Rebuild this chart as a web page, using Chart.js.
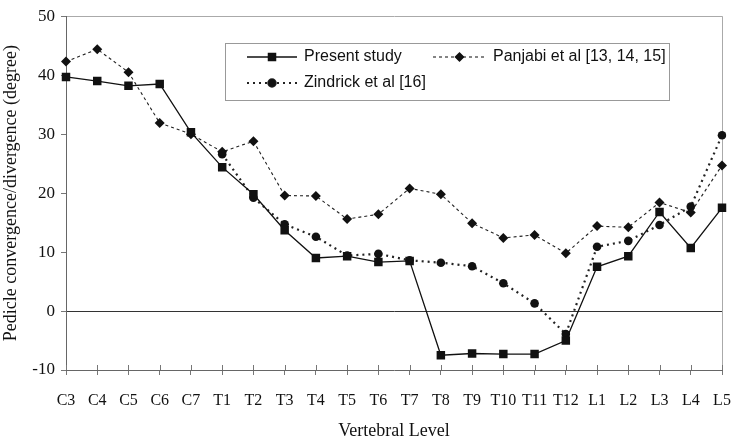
<!DOCTYPE html>
<html>
<head>
<meta charset="utf-8">
<script src="https://cdn.jsdelivr.net/npm/chart.js@4/dist/chart.umd.min.js"></script>
<style>
html,body{margin:0;padding:0;background:#fff;}
#wrap{width:733px;height:440px;}
</style>
</head>
<body>
<div id="wrap"><canvas id="c" width="733" height="440"></canvas></div>
<script>
const levels = ['C3','C4','C5','C6','C7','T1','T2','T3','T4','T5','T6','T7','T8','T9','T10','T11','T12','L1','L2','L3','L4','L5'];
const presentStudy = [39.7, 39.0, 38.2, 38.5, 30.3, 24.4, 19.8, 13.7, 9.0, 9.3, 8.3, 8.5, -7.5, -7.2, -7.3, -7.3, -5.0, 7.5, 9.3, 16.8, 10.7, 17.5];
const panjabi = [42.3, 44.4, 40.5, 31.9, 30.0, 27.0, 28.8, 19.6, 19.5, 15.6, 16.4, 20.8, 19.8, 14.9, 12.4, 12.9, 9.8, 14.4, 14.2, 18.4, 16.7, 24.7];
const zindrick = [null, null, null, null, null, 26.6, 19.2, 14.7, 12.6, 9.4, 9.7, 8.6, 8.2, 7.6, 4.7, 1.3, -3.9, 10.9, 11.9, 14.6, 17.7, 29.8];
const seriesNames = ['Present study', 'Panjabi et al [13, 14, 15]', 'Zindrick et al [16]'];
const yTicks = [-10, 0, 10, 20, 30, 40, 50];

const serif = "'Liberation Serif', 'Times New Roman', serif";
const sans = "'Liberation Sans', Arial, sans-serif";

const legendPlugin = {
  id: 'boxLegend',
  afterDraw(chart) {
    const ctx = chart.ctx;
    ctx.save();
    ctx.fillStyle = '#fff';
    ctx.strokeStyle = '#999';
    ctx.lineWidth = 1;
    ctx.fillRect(225.5, 43.5, 444, 57);
    ctx.strokeRect(225.5, 43.5, 444, 57);
    const entries = [
      {ds: 0, x0: 247, x1: 297, y: 57},
      {ds: 1, x0: 433, x1: 486, y: 57},
      {ds: 2, x0: 247, x1: 297, y: 83}
    ];
    entries.forEach(e => {
      const ds = chart.data.datasets[e.ds];
      ctx.strokeStyle = ds.borderColor;
      ctx.lineWidth = ds.borderWidth;
      ctx.setLineDash(ds.borderDash || []);
      ctx.beginPath();
      ctx.moveTo(e.x0, e.y);
      ctx.lineTo(e.x1, e.y);
      ctx.stroke();
      ctx.setLineDash([]);
      Chart.helpers.drawPoint(ctx, {
        pointStyle: ds.pointStyle,
        radius: ds.pointRadius * 0.85,
        rotation: 0,
        borderWidth: 1
      }, (e.x0 + e.x1) / 2, e.y);
      ctx.fillStyle = '#111';
      ctx.fill();
      ctx.font = '16px ' + sans;
      ctx.textBaseline = 'middle';
      ctx.textAlign = 'left';
      ctx.fillText(ds.label, e.x1 + 7, e.y);
    });
    ctx.restore();
  }
};

const tickPlugin = {
  id: 'crossTicks',
  afterDatasetsDraw(chart) {
    const ctx = chart.ctx;
    const xs = chart.scales.x;
    const bottom = chart.chartArea.bottom;
    ctx.save();
    ctx.strokeStyle = '#777';
    ctx.lineWidth = 1;
    for (let i = 0; i < levels.length; i++) {
      const px = Math.round(xs.getPixelForValue(i)) + 0.5;
      ctx.beginPath();
      ctx.moveTo(px, bottom - 5);
      ctx.lineTo(px, bottom);
      ctx.stroke();
    }
    ctx.restore();
  }
};

new Chart(document.getElementById('c'), {
  type: 'line',
  data: {
    labels: levels,
    datasets: [
      {
        label: seriesNames[0],
        data: presentStudy,
        borderColor: '#111',
        backgroundColor: '#111',
        borderWidth: 1.3,
        pointStyle: 'rect',
        pointRadius: 6,
        pointBorderWidth: 0,
        tension: 0
      },
      {
        label: seriesNames[1],
        data: panjabi,
        borderColor: '#222',
        backgroundColor: '#111',
        borderWidth: 1.1,
        borderDash: [3, 3],
        pointStyle: 'rectRot',
        pointRadius: 5,
        pointBorderWidth: 0,
        tension: 0
      },
      {
        label: seriesNames[2],
        data: zindrick,
        borderColor: '#222',
        backgroundColor: '#111',
        borderWidth: 2.2,
        borderDash: [2, 4],
        pointStyle: 'circle',
        pointRadius: 4.3,
        pointBorderWidth: 0,
        tension: 0
      }
    ]
  },
  options: {
    responsive: false,
    animation: false,
    events: [],
    layout: { padding: { top: 10, right: 0, left: 0, bottom: 0 } },
    plugins: {
      legend: { display: false },
      tooltip: { enabled: false }
    },
    scales: {
      x: {
        type: 'category',
        offset: false,
        afterFit(scale) { scale.height = 70; scale.paddingRight = 11; },
        grid: {
          drawOnChartArea: true,
          color: ctx => (ctx.index === levels.length - 1 ? '#aaa' : 'rgba(0,0,0,0)'),
          tickColor: '#777',
          tickLength: 5
        },
        border: { display: true, color: '#666', width: 1 },
        ticks: {
          color: '#111',
          font: { family: serif, size: 16 },
          padding: 16,
          maxRotation: 0,
          autoSkip: false
        },
        title: {
          display: true,
          text: 'Vertebral Level',
          color: '#111',
          font: { family: serif, size: 18, lineHeight: 1 },
          padding: { top: 0, bottom: 0 }
        }
      },
      y: {
        min: -10,
        max: 50,
        afterFit(scale) { scale.width = 66; },
        afterBuildTicks(scale) { scale.ticks = yTicks.map(v => ({ value: v })); },
        grid: {
          drawOnChartArea: true,
          color: ctx => (ctx.tick.value === 0 ? '#333' : (ctx.tick.value === 50 ? '#aaa' : 'rgba(0,0,0,0)')),
          tickColor: '#777',
          tickLength: 5
        },
        border: { display: true, color: '#666', width: 1 },
        ticks: {
          color: '#111',
          font: { family: serif, size: 17 },
          padding: 6
        },
        title: {
          display: true,
          text: 'Pedicle convergence/divergence (degree)',
          color: '#111',
          font: { family: serif, size: 18, lineHeight: 1.2 },
          padding: { top: 0, bottom: 0 }
        }
      }
    }
  },
  plugins: [tickPlugin, legendPlugin]
});
</script>
</body>
</html>
